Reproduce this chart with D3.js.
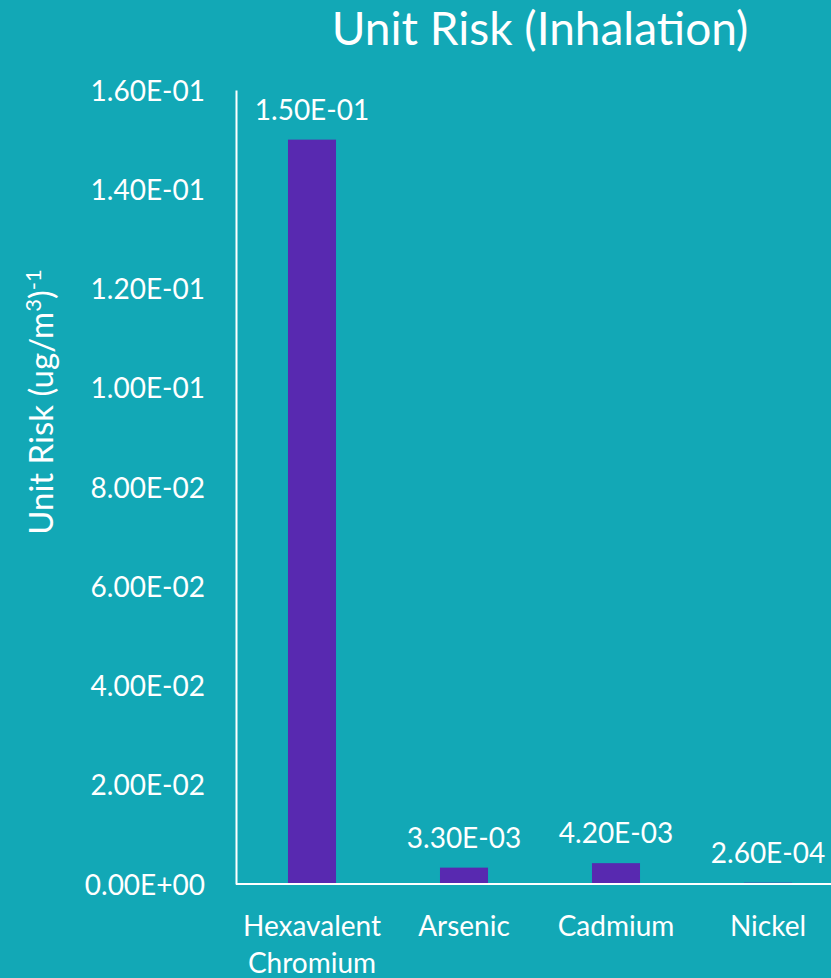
<!DOCTYPE html>
<html><head><meta charset="utf-8">
<script src="https://cdn.jsdelivr.net/npm/d3@7"></script>
<style>
html,body{margin:0;padding:0;background:#12A8B6;}
svg{display:block;}
text{font-family:Lato,"Open Sans",sans-serif;fill:#fff;}
</style></head>
<body>
<script>
const categories = ["Hexavalent Chromium", "Arsenic", "Cadmium", "Nickel"];
const values = [0.15, 0.0033, 0.0042, 0.00026];
const yTicks = [0, 0.02, 0.04, 0.06, 0.08, 0.10, 0.12, 0.14, 0.16];
const title = "Unit Risk (Inhalation)";

const W = 831, H = 978;
const bg = "#12A8B6", barColor = "#5829B0";
const svg = d3.select("body").append("svg").attr("width", W).attr("height", H);
svg.append("rect").attr("width", W).attr("height", H).attr("fill", bg);

const x = d3.scaleBand().domain(categories).range([236, 844]).paddingInner(0.684).paddingOuter(0.342);
const y = d3.scaleLinear().domain([0, 0.16]).range([884, 90]);

function fmtE(v){
  const parts = v.toExponential(2).split("e");
  const e = parts[1];
  const sign = e[0] === "-" ? "-" : "+";
  return parts[0] + "E" + sign + String(Math.abs(+e)).padStart(2, "0");
}

// bars
svg.append("g").selectAll("rect").data(values).join("rect")
  .attr("x", (d,i) => x(categories[i]))
  .attr("width", x.bandwidth())
  .attr("y", d => y(d))
  .attr("height", d => y(0) - y(d))
  .attr("fill", barColor);

// y axis
const yAxis = svg.append("g").attr("transform", "translate(236,0)")
  .call(d3.axisLeft(y).tickValues(yTicks).tickSize(0).tickSizeOuter(0).tickPadding(31).tickFormat(fmtE));
yAxis.select(".domain").attr("stroke", "#fff").attr("stroke-width", 2);
yAxis.selectAll("text").style("font-size", "28px").attr("fill", "#fff").attr("dy", "0.36em");

// x axis
const xAxis = svg.append("g").attr("transform", "translate(0,884)")
  .call(d3.axisBottom(x).tickSize(0).tickSizeOuter(0).tickFormat(""));
xAxis.select(".domain").attr("stroke", "#fff").attr("stroke-width", 2)
  .attr("d", "M236,0H" + W);

// category labels (wrapped)
const catG = svg.append("g");
categories.forEach(c => {
  const words = c.split(" ");
  const t = catG.append("text").attr("text-anchor", "middle")
    .attr("x", x(c) + x.bandwidth()/2).attr("y", 936).style("font-size", "28px");
  words.forEach((w, i) => {
    t.append("tspan").attr("x", x(c) + x.bandwidth()/2).attr("dy", i === 0 ? 0 : 37).text(w);
  });
});

// value labels
svg.append("g").selectAll("text").data(values).join("text")
  .attr("text-anchor", "middle")
  .attr("x", (d,i) => x(categories[i]) + x.bandwidth()/2)
  .attr("y", d => y(d) - 20)
  .style("font-size", "28px")
  .text(d => fmtE(d));

// title
svg.append("text").attr("x", 540).attr("y", 45).attr("text-anchor", "middle")
  .style("font-size", "46px").text(title);

// y axis label
const yl = svg.append("text").attr("text-anchor", "middle")
  .attr("transform", "translate(53,402) rotate(-90)")
  .style("font-size", "33px");
yl.append("tspan").text("Unit Risk (ug/m");
yl.append("tspan").attr("dy", -12).style("font-size", "22px").text("3");
yl.append("tspan").attr("dy", 12).text(")");
yl.append("tspan").attr("dy", -12).style("font-size", "22px").text("-1");
</script>
</body></html>
